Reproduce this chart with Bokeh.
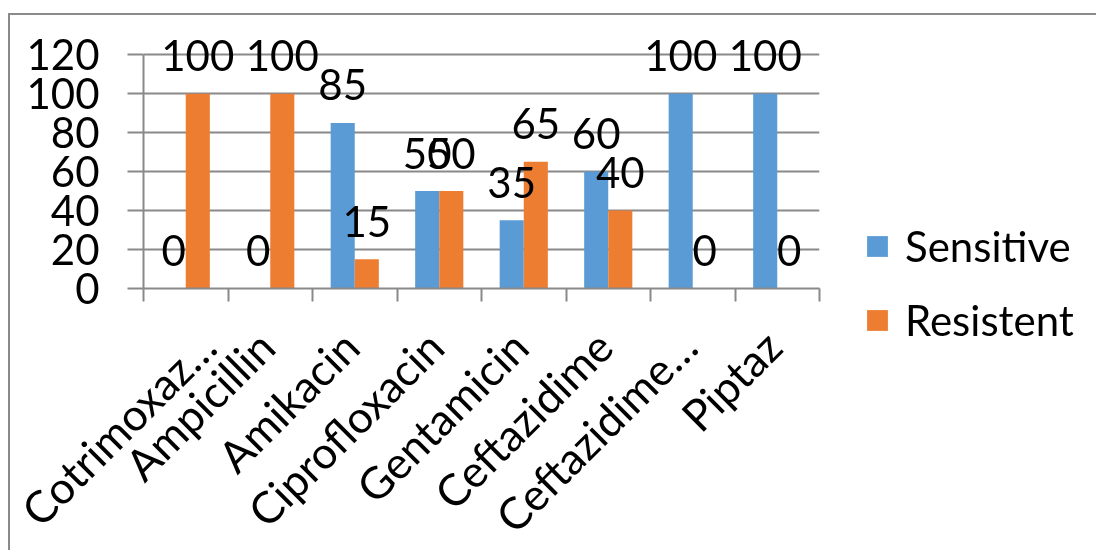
from bokeh.plotting import figure
from bokeh.models import Range1d, FixedTicker, Legend, LegendItem, ColumnDataSource
from bokeh.transform import dodge
from bokeh.core.properties import value
from bokeh.embed import file_html
from bokeh.resources import INLINE

categories = ["Cotrimoxaz\u2026", "Ampicillin", "Amikacin", "Ciprofloxacin",
              "Gentamicin", "Ceftazidime", "Ceftazidime\u2026", "Piptaz"]
sensitive = [0, 0, 85, 50, 35, 60, 100, 100]
resistent = [100, 100, 15, 50, 65, 40, 0, 0]
series_names = ["Sensitive", "Resistent"]
y_ticks = [0, 20, 40, 60, 80, 100, 120]

BLUE = "#5B9BD5"
ORANGE = "#ED7D31"
GRAY = "#898989"
FONT = "Lato"
FS = "42px"

n = len(categories)
centers = [i + 0.5 for i in range(n)]
label_pos = [c - 0.05 for c in centers]
bounds = [i for i in range(n + 1)]
src = ColumnDataSource(dict(
    xc=centers,
    sens=sensitive,
    res=resistent,
    sens_t=[str(v) for v in sensitive],
    res_t=[str(v) for v in resistent],
))

# main chart, placed at the chart border (left 8px, top 13px, 2px line)
p = figure(width=1086, height=571, output_backend="svg", toolbar_location=None,
           x_range=Range1d(0, n), y_range=Range1d(0, 135),
           min_border_left=133, min_border_right=279, min_border_top=10,
           min_border_bottom=300)
p.styles = {"position": "fixed", "left": "8px", "top": "13px",
            "border-left": "2px solid #8a8a8a", "border-top": "2px solid #8a8a8a",
            "box-sizing": "content-box"}
p.outline_line_color = None
p.background_fill_color = "white"
p.border_fill_color = "white"

BW = 0.285
rs = p.vbar(x=dodge("xc", -BW / 2, range=p.x_range), top="sens", width=BW, bottom=0,
            source=src, fill_color=BLUE, line_color=None)
rr = p.vbar(x=dodge("xc", BW / 2, range=p.x_range), top="res", width=BW, bottom=0,
            source=src, fill_color=ORANGE, line_color=None)

for col, txt, off in (("sens", "sens_t", -BW / 2), ("res", "res_t", BW / 2)):
    p.text(x=dodge("xc", off, range=p.x_range), y=col, text=txt, source=src,
           text_font=value(FONT), text_font_size=FS, text_color="black",
           text_align="center", text_baseline="middle", y_offset=-38)

p.xgrid.grid_line_color = None
p.ygrid.grid_line_color = GRAY
p.ygrid.grid_line_width = 2
p.ygrid.ticker = FixedTicker(ticks=y_ticks)

ya = p.yaxis[0]
ya.ticker = FixedTicker(ticks=y_ticks)
ya.bounds = (0, 120)
ya.axis_line_color = GRAY
ya.axis_line_width = 2
ya.major_tick_line_color = GRAY
ya.major_tick_line_width = 2
ya.major_tick_out = 16
ya.major_tick_in = 0
ya.minor_tick_line_color = None
ya.major_label_text_font = FONT
ya.major_label_text_font_size = FS
ya.major_label_text_color = "black"
ya.major_label_standoff = 28

xa = p.xaxis[0]
xa.ticker = FixedTicker(ticks=label_pos, minor_ticks=bounds)
xa.major_label_overrides = {c: lab for c, lab in zip(label_pos, categories)}
xa.major_label_orientation = 0.7853981634
xa.axis_line_color = GRAY
xa.axis_line_width = 2
xa.major_tick_line_color = None
xa.major_tick_out = 0
xa.major_tick_in = 0
xa.minor_tick_line_color = GRAY
xa.minor_tick_line_width = 2
xa.minor_tick_out = 13
xa.minor_tick_in = 0
xa.major_label_text_font = FONT
xa.major_label_text_font_size = "44px"
xa.major_label_text_color = "black"
xa.major_label_standoff = 37

# legend overlay (transparent figure on the right); its renderers are hidden
pl = figure(width=256, height=550, output_backend="svg", toolbar_location=None,
            x_range=Range1d(0, n), y_range=Range1d(0, 135),
            x_axis_type=None, y_axis_type=None,
            min_border_left=0, min_border_right=0, min_border_top=0,
            min_border_bottom=0)
pl.styles = {"position": "fixed", "left": "840px", "top": "0px"}
pl.outline_line_color = None
pl.background_fill_alpha = 0
pl.border_fill_alpha = 0
pl.xgrid.grid_line_color = None
pl.ygrid.grid_line_color = None
ls = pl.vbar(x="xc", top="sens", width=BW, source=src, fill_color=BLUE,
             line_color=None, visible=False)
lr = pl.vbar(x="xc", top="res", width=BW, source=src, fill_color=ORANGE,
             line_color=None, visible=False)

legend = Legend(items=[LegendItem(label=series_names[0], renderers=[ls]),
                       LegendItem(label=series_names[1], renderers=[lr])],
                location=(24, 205), orientation="vertical")
legend.glyph_width = 26
legend.glyph_height = 26
legend.label_text_font = FONT
legend.label_text_font_size = FS
legend.label_text_color = "black"
legend.label_standoff = 15
legend.spacing = 24
legend.padding = 0
legend.margin = 0
legend.border_line_color = None
legend.background_fill_alpha = 0
legend.inactive_fill_alpha = 0
pl.add_layout(legend, "center")

open("out.html", "w").write(file_html([p, pl], INLINE))
